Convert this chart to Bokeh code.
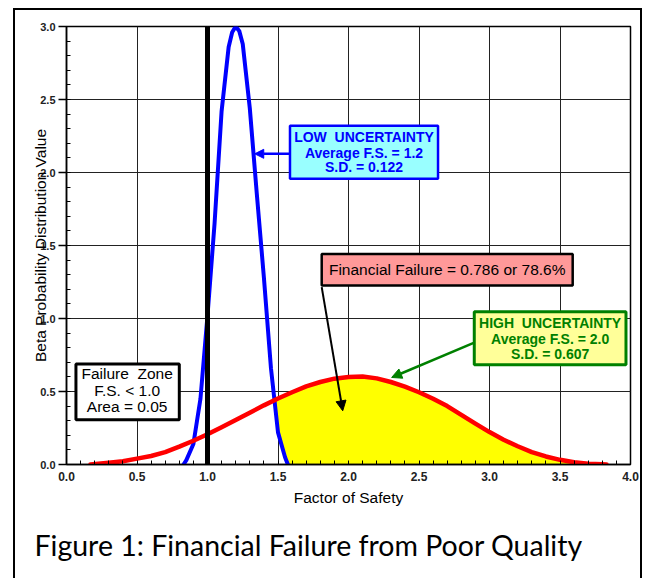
import numpy as np
from bokeh.plotting import figure
from bokeh.models import Range1d, FixedTicker, Arrow, NormalHead, Title
from bokeh.core.properties import value
from bokeh.embed import file_html
from bokeh.resources import INLINE

# ---------------- data ----------------
low_x = [0.83, 0.85, 0.90, 0.95, 1.00, 1.05, 1.10, 1.15, 1.175, 1.20, 1.225, 1.25, 1.30, 1.35, 1.40, 1.45, 1.50, 1.55, 1.57]
low_y = [0.00, 0.03, 0.14, 0.45, 1.02, 1.65, 2.42, 2.86, 2.96, 3.00, 2.97, 2.88, 2.44, 1.85, 1.28, 0.66, 0.22, 0.05, 0.00]

high_x = [0.17, 0.30, 0.40, 0.50, 0.60, 0.70, 0.80, 0.90, 1.00, 1.10, 1.20, 1.30, 1.40, 1.50, 1.60,
          1.70, 1.80, 1.90, 2.00, 2.10, 2.20, 2.30, 2.40, 2.50, 2.60, 2.70, 2.80, 2.90, 3.00, 3.10,
          3.20, 3.30, 3.40, 3.50, 3.60, 3.70, 3.80, 3.83]
high_y = [0.000, 0.012, 0.022, 0.040, 0.058, 0.085, 0.122, 0.163, 0.207, 0.255, 0.305, 0.355, 0.405, 0.452, 0.495,
          0.535, 0.565, 0.588, 0.600, 0.603, 0.590, 0.565, 0.533, 0.495, 0.450, 0.400, 0.340, 0.280, 0.222, 0.170,
          0.125, 0.085, 0.055, 0.032, 0.015, 0.005, 0.001, 0.000]

fs_limit = 1.0

x_tick_vals = [0.0, 0.5, 1.0, 1.5, 2.0, 2.5, 3.0, 3.5, 4.0]
x_tick_labels = ["0.0", "0.5", "1.0", "1.5", "2.0", "2.5", "3.0", "3.5", "4.0"]
y_tick_vals = [0.0, 0.5, 1.0, 1.5, 2.0, 2.5, 3.0]
y_tick_labels = ["0.0", "0.5", "1.0", "1.5", "2.0", "2.5", "3.0"]

x_title = "Factor of Safety"
y_title = "Beta Probability Distribution Value"
caption = "Figure 1: Financial Failure from Poor Quality"

low_lines = ["LOW\u00a0\u00a0UNCERTAINTY", "Average F.S. = 1.2", "S.D. = 0.122"]
high_lines = ["HIGH\u00a0\u00a0UNCERTAINTY", "Average F.S. = 2.0", "S.D. = 0.607"]
zone_lines = ["Failure\u00a0\u00a0Zone", "F.S. < 1.0", "Area = 0.05"]
fin_text = "Financial Failure = 0.786 or 78.6%"

FONT = "Liberation Sans"

# ---------------- figure ----------------
p = figure(width=629, height=570, x_range=Range1d(0, 4), y_range=Range1d(0, 3),
           output_backend="svg", toolbar_location=None,
           min_border_left=51, min_border_right=14, min_border_top=16, min_border_bottom=116)
p.background_fill_color = "white"
p.border_fill_color = "white"
p.outline_line_color = "black"
p.outline_line_width = 1.5
p.styles = {"margin-left": "13px", "margin-top": "8px",
            "border-left": "2px solid black", "border-top": "2px solid black",
            "border-right": "2px solid black"}

x_minor = [round(i * 0.1, 1) for i in range(0, 41)]
y_minor = [round(i * 0.1, 1) for i in range(0, 31)]
p.xaxis.ticker = FixedTicker(ticks=x_tick_vals, minor_ticks=x_minor)
p.yaxis.ticker = FixedTicker(ticks=y_tick_vals, minor_ticks=y_minor)
p.xaxis.major_label_overrides = {v: s for v, s in zip(x_tick_vals, x_tick_labels)}
p.yaxis.major_label_overrides = {v: s for v, s in zip(y_tick_vals, y_tick_labels)}
p.xgrid.ticker = FixedTicker(ticks=x_tick_vals)
p.ygrid.ticker = FixedTicker(ticks=y_tick_vals)
p.grid.grid_line_color = "#222222"
p.grid.grid_line_width = 1
p.grid.grid_line_alpha = 1

for ax in (p.xaxis[0], p.yaxis[0]):
    ax.axis_line_color = "black"
    ax.axis_line_width = 1.5
    ax.major_label_text_font = FONT
    ax.major_label_text_font_style = "bold"
    ax.major_label_text_color = "#222222"
    ax.major_tick_line_color = "black"
    ax.minor_tick_line_color = "black"
    ax.major_tick_line_width = 1.5
    ax.minor_tick_line_width = 1
    ax.major_tick_in = 0
    ax.minor_tick_in = 4
    ax.minor_tick_out = 0
    ax.axis_label_text_font = FONT
    ax.axis_label_text_font_style = "normal"
    ax.axis_label_text_color = "black"
p.xaxis.major_label_text_font_size = "12px"
p.yaxis.major_label_text_font_size = "11px"
p.xaxis.major_tick_out = 0
p.xaxis.major_label_standoff = 7
p.yaxis.major_tick_out = 8
p.yaxis.major_label_standoff = 3
p.yaxis.axis_label = y_title
p.yaxis.axis_label_text_font_size = "15.5px"
p.yaxis.axis_label_standoff = -12
p.xaxis.axis_label = x_title
p.xaxis.axis_label_text_font_size = "15.5px"
p.xaxis.axis_label_standoff = 5

# ---------------- yellow failure area ----------------
lx = np.array(low_x); ly = np.array(low_y)
hx = np.array(high_x); hy = np.array(high_y)
right = lx >= 1.2
rx, ry = lx[right], ly[right]
diff = ry - np.interp(rx, hx, hy)
k = np.where((diff[:-1] > 0) & (diff[1:] <= 0))[0][0]
t = diff[k] / (diff[k] - diff[k + 1])
xc = rx[k] + t * (rx[k + 1] - rx[k])
yc = float(np.interp(xc, hx, hy))
top_mask = hx > xc
blue_mask = rx > xc
px_ = [xc] + list(hx[top_mask]) + list(rx[blue_mask][::-1])
py_ = [yc] + list(hy[top_mask]) + list(ry[blue_mask][::-1])
p.patch(px_, py_, fill_color="#FFFF00", line_color="black", line_width=1.3)

# ---------------- curves ----------------
p.line(low_x, low_y, line_color="#0000FF", line_width=4, line_cap="round", line_join="round")
p.line(high_x, high_y, line_color="#FF0000", line_width=4.5, line_cap="round", line_join="round")
p.segment(x0=[fs_limit], y0=[0], x1=[fs_limit], y1=[3.0], line_color="black", line_width=5)

# ---------------- annotation boxes ----------------
def box(l, r, t_, b, fill, line, lw):
    p.quad(left=[l], right=[r], top=[t_], bottom=[b], fill_color=fill, line_color=line, line_width=lw)

def lines(xs, ys, texts, color, size, style):
    p.text(x=xs, y=ys, text=texts, text_color=color, text_font=value(FONT),
           text_font_size=value(size), text_font_style=style,
           text_align="center", text_baseline="middle")

# LOW uncertainty
box(1.585, 2.635, 2.32, 1.957, "#99FFFF", "#0000FF", 2.5)
lines([2.11] * 3, [2.244, 2.135, 2.039], low_lines, "#0000FF", "14px", "bold")
p.add_layout(Arrow(end=NormalHead(size=9, fill_color="#0000FF", line_color="#0000FF"),
                   x_start=1.585, y_start=2.128, x_end=1.335, y_end=2.128,
                   line_color="#0000FF", line_width=2.5))

# Financial failure
box(1.81, 3.59, 1.441, 1.226, "#FF9999", "black", 2.5)
lines([2.70], [1.335], [fin_text], "black", "15.5px", "normal")
p.add_layout(Arrow(end=NormalHead(size=10, fill_color="black", line_color="black"),
                   x_start=1.81, y_start=1.215, x_end=1.959, y_end=0.368,
                   line_color="black", line_width=2))

# HIGH uncertainty
box(2.892, 3.968, 1.046, 0.683, "#FFFF99", "#008000", 3)
lines([3.43] * 3, [0.970, 0.861, 0.758], high_lines, "#008000", "14px", "bold")
p.add_layout(Arrow(end=NormalHead(size=10, fill_color="#008000", line_color="#008000"),
                   x_start=2.892, y_start=0.835, x_end=2.306, y_end=0.596,
                   line_color="#008000", line_width=2.5))

# Failure zone
box(0.067, 0.80, 0.688, 0.306, "white", "black", 3)
lines([0.43] * 3, [0.623, 0.505, 0.395], zone_lines, "black", "15.5px", "normal")

# ---------------- caption ----------------
cap = Title(text=caption, align="left", text_font="Lato", text_font_size="28.5px",
            text_font_style="normal", text_color="black", offset=-32, standoff=35)
p.add_layout(cap, "below")

open("out.html", "w").write(file_html(p, INLINE))
